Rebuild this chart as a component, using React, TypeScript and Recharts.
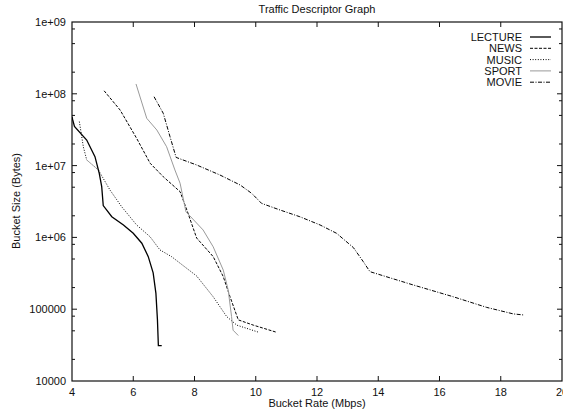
import { LineChart, Line, XAxis, YAxis } from "recharts";

// bucket rate (Mbps) / bucket size (bytes) per trace
const lectureRate = [4.0, 4.02, 4.08, 4.48, 4.75, 4.89, 4.97, 5.02, 5.3, 5.68, 6.0, 6.28, 6.49, 6.65, 6.74, 6.79, 6.82, 6.93];
const lectureSize = [4.8e7, 4.4e7, 3.5e7, 2.27e7, 1.33e7, 7.8e6, 5.1e6, 2.77e6, 1.94e6, 1.49e6, 1.14e6, 8.3e5, 5.4e5, 3.2e5, 1.66e5, 7.1e4, 3.1e4, 3.1e4];

const newsRate = [5.05, 5.57, 6.11, 6.55, 6.98, 7.53, 7.75, 8.07, 8.61, 8.94, 9.16, 9.43, 9.92, 10.68];
const newsSize = [1.1e8, 5.95e7, 2.4e7, 1.08e7, 7.0e6, 4.33e6, 2.41e6, 9.8e5, 5.4e5, 2.84e5, 1.49e5, 7.1e4, 6.0e4, 4.77e4];

const musicRate = [4.24, 4.37, 4.48, 4.86, 5.24, 5.62, 6.11, 6.55, 6.87, 7.25, 8.07, 8.61, 9.05, 9.38, 10.08];
const musicSize = [4.1e7, 1.83e7, 1.2e7, 8.7e6, 4.57e6, 2.68e6, 1.49e6, 1.02e6, 6.7e5, 5.4e5, 2.9e5, 1.49e5, 7.9e4, 6.0e4, 4.8e4];

const sportRate = [6.09, 6.44, 6.77, 7.09, 7.36, 7.53, 7.72, 8.28, 8.61, 8.94, 9.1, 9.21, 9.26, 9.43];
const sportSize = [1.37e8, 4.56e7, 3.13e7, 1.83e7, 8.7e6, 5.67e6, 2.28e6, 1.27e6, 7.4e5, 3.5e5, 1.85e5, 7.9e4, 5.1e4, 4.3e4];

const movieRate = [6.68, 6.98, 7.2, 7.4, 8.07, 8.83, 9.49, 9.87, 10.19, 10.79, 11.44, 12.1, 12.64, 13.19, 13.51, 13.73, 15.15, 16.45, 17.54, 18.41, 18.76];
const movieSize = [9.1e7, 5.35e7, 2.53e7, 1.3e7, 1.02e7, 7.4e6, 5.37e6, 4.1e6, 2.98e6, 2.41e6, 1.94e6, 1.49e6, 1.14e6, 7.2e5, 4.6e5, 3.33e5, 2.17e5, 1.49e5, 1.06e5, 8.6e4, 8.3e4];

const xTicks = [4, 6, 8, 10, 12, 14, 16, 18, 20];
const yMajor = [1e4, 1e5, 1e6, 1e7, 1e8, 1e9];
const yMinorMult = [2, 5, 8];

const pts = (xs: number[], ys: number[]) => xs.map((x, i) => ({ x, y: ys[i] }));

const series = [
  { name: "LECTURE", data: pts(lectureRate, lectureSize), stroke: "#000", width: 1.3, dash: undefined },
  { name: "NEWS", data: pts(newsRate, newsSize), stroke: "#000", width: 1, dash: "3 1.5" },
  { name: "MUSIC", data: pts(musicRate, musicSize), stroke: "#000", width: 1, dash: "1 1.6" },
  { name: "SPORT", data: pts(sportRate, sportSize), stroke: "#9a9a9a", width: 1, dash: undefined },
  { name: "MOVIE", data: pts(movieRate, movieSize), stroke: "#000", width: 1, dash: "4 1.5 1 1.5" },
];

const yTicks = [
  ...yMajor,
  ...yMajor.slice(0, -1).flatMap((d) => yMinorMult.map((m) => d * m)),
];

// plot box
const L = 72, T = 22, R = 562, B = 381;
const FONT = "'Liberation Sans', Arial, sans-serif";
const INK = "#111";

function fmtY(v: number) {
  const e = Math.round(Math.log10(v));
  if (e >= 6) return `1e+0${e}`;
  return String(v);
}

function XTick({ x, payload }: any) {
  const v = payload.value;
  const edge = v === 4 || v === 20;
  return (
    <g>
      {!edge && <line x1={x} x2={x} y1={B} y2={B - 5} stroke={INK} />}
      {!edge && <line x1={x} x2={x} y1={T} y2={T + 5} stroke={INK} />}
      <text x={x} y={B + 15} textAnchor="middle" fontSize={11} fontFamily={FONT} fill={INK}>{v}</text>
    </g>
  );
}

function YTick({ y, payload }: any) {
  const v = payload.value;
  const e = Math.log10(v);
  const major = Math.abs(e - Math.round(e)) < 1e-6;
  const len = major ? 5 : 3;
  const edge = major && (v === 1e4 || v === 1e9);
  return (
    <g>
      {!edge && <line x1={L} x2={L + len} y1={y} y2={y} stroke={INK} />}
      {!edge && <line x1={R - len} x2={R} y1={y} y2={y} stroke={INK} />}
      {major && (
        <text x={66} y={y + 4} textAnchor="end" fontSize={11} fontFamily={FONT} fill={INK}>{fmtY(v)}</text>
      )}
    </g>
  );
}

function Sample({ s, y }: any) {
  return (
    <g>
      <text x={522} y={y + 4} textAnchor="end" fontSize={11} fontFamily={FONT} fill={INK}>{s.name}</text>
      <line x1={530} x2={551} y1={y} y2={y} stroke={s.stroke} strokeWidth={s.width} strokeDasharray={s.dash} />
    </g>
  );
}

export default function App() {
  return (
    <div style={{ position: "absolute", left: 0, top: 0, width: 563, height: 410, background: "#fff" }}>
      <LineChart width={563} height={410} margin={{ top: T, right: 563 - R, bottom: 0, left: 10 }}>
        <XAxis
          type="number"
          dataKey="x"
          domain={[4, 20]}
          ticks={xTicks}
          height={29}
          axisLine={false}
          tickLine={false}
          tick={<XTick />}
          interval={0}
          allowDataOverflow
        />
        <YAxis
          type="number"
          dataKey="y"
          scale="log"
          domain={[1e4, 1e9]}
          ticks={yTicks}
          width={62}
          axisLine={false}
          tickLine={false}
          tick={<YTick />}
          interval={0}
          allowDataOverflow
        />
        {series.map((s) => (
          <Line
            key={s.name}
            data={s.data}
            dataKey="y"
            name={s.name}
            type="linear"
            stroke={s.stroke}
            strokeWidth={s.width}
            strokeDasharray={s.dash}
            dot={false}
            activeDot={false}
            isAnimationActive={false}
          />
        ))}
        <rect x={L} y={T} width={R - L} height={B - T} fill="none" stroke={INK} strokeWidth={1.2} />
        <text x={317} y={13} textAnchor="middle" fontSize={11} fontFamily={FONT} fill={INK}>Traffic Descriptor Graph</text>
        <text x={317} y={407} textAnchor="middle" fontSize={11} fontFamily={FONT} fill={INK}>Bucket Rate (Mbps)</text>
        <text x={20} y={201} transform="rotate(-90 20 201)" textAnchor="middle" fontSize={11} fontFamily={FONT} fill={INK}>Bucket Size (Bytes)</text>
        {series.map((s, i) => (
          <Sample key={s.name} s={s} y={37 + i * 11.3} />
        ))}
      </LineChart>
    </div>
  );
}
